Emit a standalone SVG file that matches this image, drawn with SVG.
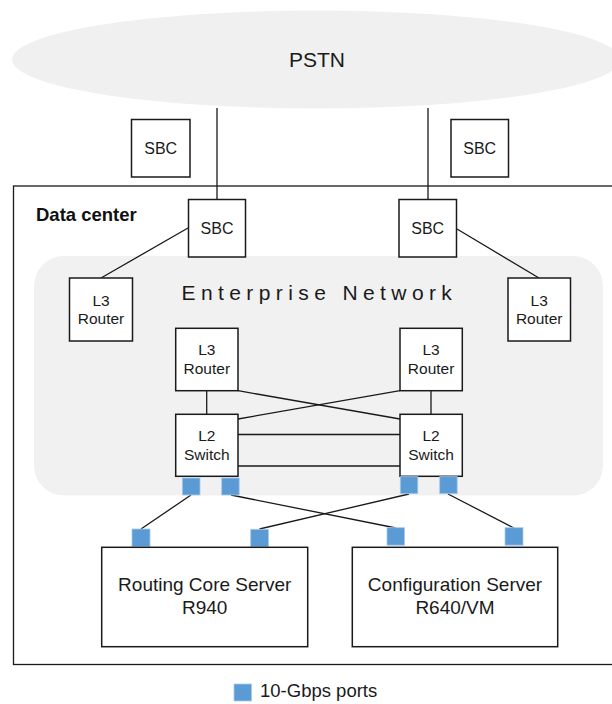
<svg xmlns="http://www.w3.org/2000/svg" width="612" height="704" viewBox="0 0 612 704">
  <style>
    .box { fill: #ffffff; stroke: #1a1a1a; stroke-width: 1.5; }
    .link { stroke: #1a1a1a; stroke-width: 1.3; fill: none; }
    .port { fill: #5b9bd5; stroke: #a9c9ea; stroke-width: 0.8; }
    .lbl { font-family: "Liberation Sans", Arial, sans-serif; fill: #1a1a1a; text-anchor: middle; }
    .dev { font-size: 15.5px; }
    .sbc { font-size: 16px; }
    .srv { font-size: 19px; }
  </style>

  <!-- Public telephone network cloud -->
  <g id="pstn">
    <ellipse cx="316" cy="59.5" rx="304" ry="49" fill="#f0f0f0"/>
    <text class="lbl" x="317" y="67" font-size="21">PSTN</text>
  </g>

  <!-- Data center boundary -->
  <g id="data-center">
    <rect x="13.5" y="186" width="620" height="478.5" fill="none" stroke="#1a1a1a" stroke-width="1.3"/>
    <text x="36" y="220.5" font-family="Liberation Sans, Arial, sans-serif" font-size="18.5" font-weight="bold" fill="#111">Data center</text>
  </g>

  <!-- Enterprise network area -->
  <g id="enterprise-network">
    <rect x="34" y="256" width="569" height="239.5" rx="30" ry="30" fill="#f1f1f1"/>
    <text x="181.5" y="300" font-family="Liberation Sans, Arial, sans-serif" font-size="21" letter-spacing="5.4" fill="#1a1a1a">Enterprise Network</text>
  </g>

  <!-- Connectors -->
  <g id="connectors">
    <line class="link" x1="217" y1="108" x2="217" y2="199.5"/>
    <line class="link" x1="428" y1="108" x2="428" y2="199.5"/>
    <line class="link" x1="188" y1="228" x2="101" y2="278"/>
    <line class="link" x1="457" y1="229" x2="539" y2="278"/>
    <line class="link" x1="206.7" y1="390.7" x2="206.7" y2="414.3"/>
    <line class="link" x1="431" y1="390.7" x2="431" y2="414.3"/>
    <line class="link" x1="238" y1="390.7" x2="400" y2="419"/>
    <line class="link" x1="400" y1="390.7" x2="238" y2="419"/>
    <line class="link" x1="238" y1="434.5" x2="400" y2="434.5"/>
    <line class="link" x1="238" y1="466" x2="400" y2="466"/>
    <line class="link" x1="191" y1="495" x2="141" y2="529"/>
    <line class="link" x1="231" y1="495" x2="396" y2="528"/>
    <line class="link" x1="409" y1="494" x2="259.5" y2="529"/>
    <line class="link" x1="448" y1="494" x2="514" y2="528"/>
  </g>

  <!-- Session border controllers -->
  <g id="sbc-spare-left">
    <rect class="box" x="131.5" y="119.5" width="58.5" height="57.5"/>
    <text class="lbl sbc" x="160.7" y="153.5">SBC</text>
  </g>
  <g id="sbc-spare-right">
    <rect class="box" x="451" y="119.5" width="57.5" height="57.5"/>
    <text class="lbl sbc" x="479.7" y="153.5">SBC</text>
  </g>
  <g id="sbc-left">
    <rect class="box" x="188.5" y="199.5" width="57" height="57.5"/>
    <text class="lbl sbc" x="217" y="233.5">SBC</text>
  </g>
  <g id="sbc-right">
    <rect class="box" x="399" y="199.5" width="57.5" height="57.5"/>
    <text class="lbl sbc" x="427.7" y="233.5">SBC</text>
  </g>

  <!-- Edge routers -->
  <g id="router-edge-left">
    <rect class="box" x="69.5" y="278" width="63" height="63"/>
    <text class="lbl dev" x="101" y="305.5">L3</text>
    <text class="lbl dev" x="101" y="324">Router</text>
  </g>
  <g id="router-edge-right">
    <rect class="box" x="508" y="278" width="62.5" height="63"/>
    <text class="lbl dev" x="539.2" y="305.5">L3</text>
    <text class="lbl dev" x="539.2" y="324">Router</text>
  </g>

  <!-- Core routers -->
  <g id="router-core-left">
    <rect class="box" x="175.7" y="328.3" width="62.3" height="62.4"/>
    <text class="lbl dev" x="206.8" y="355">L3</text>
    <text class="lbl dev" x="206.8" y="374">Router</text>
  </g>
  <g id="router-core-right">
    <rect class="box" x="400" y="328.3" width="62.3" height="62.4"/>
    <text class="lbl dev" x="431.1" y="355">L3</text>
    <text class="lbl dev" x="431.1" y="374">Router</text>
  </g>

  <!-- Access switches -->
  <g id="switch-left">
    <rect class="box" x="175.7" y="414.3" width="62.3" height="62"/>
    <text class="lbl dev" x="206.8" y="441">L2</text>
    <text class="lbl dev" x="206.8" y="460">Switch</text>
  </g>
  <g id="switch-right">
    <rect class="box" x="400" y="414.3" width="62.3" height="62"/>
    <text class="lbl dev" x="431.1" y="441">L2</text>
    <text class="lbl dev" x="431.1" y="460">Switch</text>
  </g>

  <!-- 10-Gbps ports -->
  <g id="ports">
    <rect class="port" x="182.3" y="478" width="17.7" height="17"/>
    <rect class="port" x="221.7" y="478" width="17.5" height="17"/>
    <rect class="port" x="400.3" y="476.7" width="17.5" height="17"/>
    <rect class="port" x="439.7" y="476.7" width="17.5" height="17"/>
    <rect class="port" x="132" y="529" width="18" height="17.5"/>
    <rect class="port" x="250.7" y="529.3" width="17.7" height="17.5"/>
    <rect class="port" x="387" y="527.7" width="17.5" height="17.5"/>
    <rect class="port" x="505" y="527.7" width="18" height="17.5"/>
  </g>

  <!-- Servers -->
  <g id="routing-core-server">
    <rect class="box" x="101.7" y="547.3" width="206" height="99.4"/>
    <text class="lbl srv" x="204.7" y="590.7">Routing Core Server</text>
    <text class="lbl srv" x="204.7" y="614">R940</text>
  </g>
  <g id="configuration-server">
    <rect class="box" x="352.3" y="547.3" width="205.4" height="99.4"/>
    <text class="lbl srv" x="455" y="590.7">Configuration Server</text>
    <text class="lbl srv" x="455" y="614">R640/VM</text>
  </g>

  <!-- Legend -->
  <g id="legend">
    <rect class="port" x="234" y="684" width="17.5" height="17"/>
    <text x="260" y="697" font-family="Liberation Sans, Arial, sans-serif" font-size="18.5" fill="#1a1a1a">10-Gbps ports</text>
  </g>
</svg>
